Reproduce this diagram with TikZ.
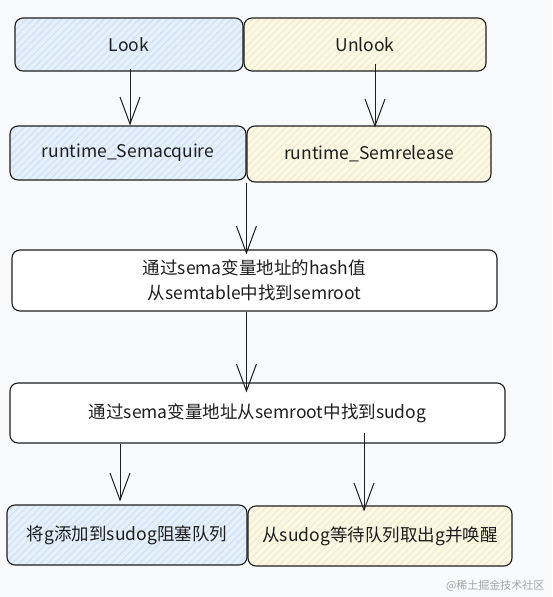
\documentclass[tikz,border=0pt]{standalone}
\usepackage{fontspec}
\setmainfont{Noto Sans CJK SC}
\usetikzlibrary{arrows.meta,patterns.meta}
\definecolor{bg}{HTML}{F8F9FB}
\definecolor{ink}{HTML}{1E1E1E}
\definecolor{bluefill}{HTML}{E6F0FA}
\definecolor{bluehatch}{HTML}{CFE2F5}
\definecolor{yelfill}{HTML}{FBF8E6}
\definecolor{yelhatch}{HTML}{F3EDCC}
\tikzset{
  box/.style={draw=ink, line width=1.1pt, rounded corners=8pt, inner sep=0pt,
    text=ink, font=\fontsize{17.5}{25}\selectfont, align=center},
  bluebox/.style={box, preaction={fill=bluefill},
    preaction={pattern={Lines[angle=45,distance=5pt,line width=1.2pt]}, pattern color=bluehatch}},
  yelbox/.style={box, preaction={fill=yelfill},
    preaction={pattern={Lines[angle=45,distance=5pt,line width=1.2pt]}, pattern color=yelhatch}},
  whitebox/.style={box, fill=white},
  arr/.style={draw=ink, line width=1pt, -{Straight Barb[length=27pt,width=20pt,line width=1pt]}},
}
\begin{document}
\begin{tikzpicture}[x=1pt,y=-1pt]
\fill[bg] (0,0) rectangle (552,597);
\useasboundingbox (0,0) rectangle (552,597);
% row 1
\node[bluebox, minimum width=228pt, minimum height=53pt] (look) at (129,44.5) {Look};
\node[yelbox, minimum width=242pt, minimum height=53pt] (unlook) at (365,44.5) {Unlook};
% row 2
\node[bluebox, minimum width=236pt, minimum height=54pt] (acq) at (128,153) {runtime\_Semacquire};
\node[yelbox, minimum width=244pt, minimum height=56pt] (rel) at (369,154) {runtime\_Semrelease};
% row 3
\node[whitebox, minimum width=485pt, minimum height=61pt] (hash) at (254.5,280.5) {通过sema变量地址的hash值\\从semtable中找到semroot};
% row 4
\node[whitebox, minimum width=495pt, minimum height=60pt] (find) at (257.5,413) {通过sema变量地址从semroot中找到sudog};
% row 5
\node[bluebox, minimum width=240pt, minimum height=60pt] (add) at (127,535) {将g添加到sudog阻塞队列};
\node[yelbox, minimum width=264pt, minimum height=60pt] (wake) at (380,536) {从sudog等待队列取出g并唤醒};
% connectors
\draw[arr] ([xshift=1pt,yshift=3pt]look.south) -- ([xshift=2pt]acq.north);
\draw[arr] ([xshift=10pt,yshift=8pt]unlook.south) -- ([xshift=6pt,yshift=-2pt]rel.north);
\draw[arr] (rel.south west) -- ([yshift=-5pt]hash.north -| rel.south west);
\draw[arr] (hash.south -| rel.south west) -- ([yshift=-10pt]find.north -| rel.south west);
\draw[arr] ([xshift=-7pt]add.north |- find.south) -- ([xshift=-7pt,yshift=3pt]add.north);
\draw[arr] ([xshift=-16pt,yshift=11pt]wake.north |- find.south) -- ([xshift=-16pt,yshift=-6pt]wake.north);
% watermark
\node[text=black!35, font=\fontsize{11}{13}\selectfont, anchor=east] (wm) at (548,586) {@稀土掘金技术社区};
\end{tikzpicture}
\end{document}
